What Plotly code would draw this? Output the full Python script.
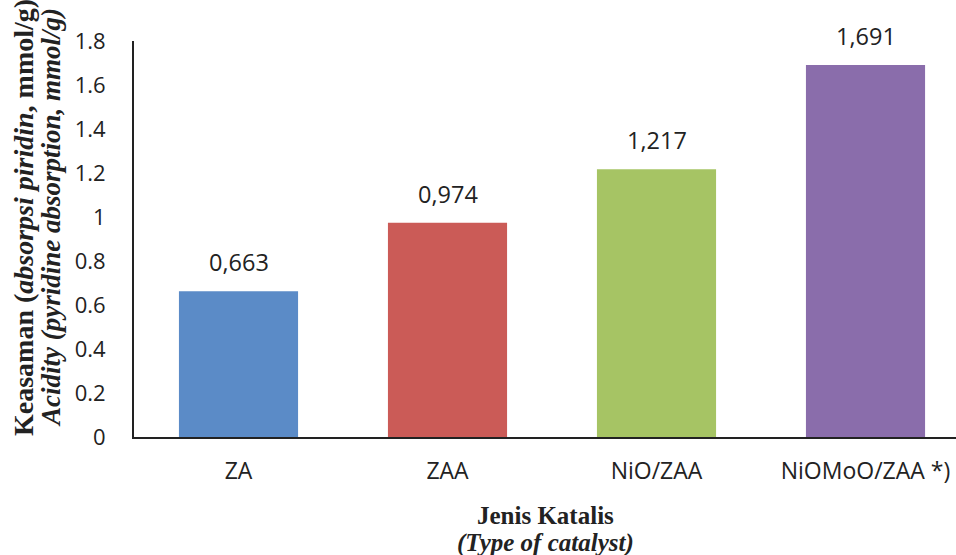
import plotly.graph_objects as go

categories = ["ZA", "ZAA", "NiO/ZAA", "NiOMoO/ZAA *)"]
values = [0.663, 0.974, 1.217, 1.691]
bar_colors = ["#5B8BC7", "#CB5B57", "#A6C464", "#8A6DAB"]
y_ticks = [0, 0.2, 0.4, 0.6, 0.8, 1, 1.2, 1.4, 1.6, 1.8]
y_tick_labels = ["0", "0.2", "0.4", "0.6", "0.8", "1", "1.2", "1.4", "1.6", "1.8"]
value_labels = [f"{v:.3f}".replace(".", ",") for v in values]

sans = "Open Sans"
serif = "Liberation Serif"

fig = go.Figure()
fig.add_trace(go.Bar(
    x=categories, y=values, marker=dict(color=bar_colors, line=dict(width=0)),
    width=0.57, hoverinfo="skip"))

for c, v, t in zip(categories, values, value_labels):
    fig.add_annotation(x=c, y=v, text=t, showarrow=False, yanchor="bottom",
                       yshift=11, font=dict(family=sans, size=23.5, color="#222222"))

fig.add_annotation(xref="paper", yref="paper", x=0, y=0.553, xshift=-111,
                   text="<b>Keasaman (<i>absorpsi piridin</i>, mmol/g)</b>",
                   textangle=-90, showarrow=False, xanchor="center", yanchor="middle",
                   font=dict(family=serif, size=28, color="#222222"))
fig.add_annotation(xref="paper", yref="paper", x=0, y=0.553, xshift=-83,
                   text="<b><i>Acidity (pyridine absorption, mmol/g)</i></b>",
                   textangle=-90, showarrow=False, xanchor="center", yanchor="middle",
                   font=dict(family=serif, size=27, color="#222222"))
fig.add_annotation(xref="paper", yref="paper", x=0.5, y=0, yshift=-78,
                   text="<b>Jenis Katalis</b>", showarrow=False,
                   xanchor="center", yanchor="middle",
                   font=dict(family=serif, size=25, color="#222222"))
fig.add_annotation(xref="paper", yref="paper", x=0.5, y=0, yshift=-106,
                   text="<b><i>(Type of catalyst)</i></b>", showarrow=False,
                   xanchor="center", yanchor="middle",
                   font=dict(family=serif, size=25, color="#222222"))

fig.update_layout(
    width=956, height=555,
    margin=dict(l=134, r=0, t=41, b=118),
    paper_bgcolor="white", plot_bgcolor="white",
    showlegend=False,
    xaxis=dict(range=[-0.5, 3.433], showline=True, linecolor="#222222", linewidth=2,
               ticks="", showgrid=False, zeroline=False,
               tickfont=dict(family=sans, size=23, color="#222222"), ticklabelstandoff=12),
    yaxis=dict(range=[0, 1.8], tickvals=y_ticks, ticktext=y_tick_labels,
               showline=True, linecolor="#222222", linewidth=2, ticks="",
               showgrid=False, zeroline=False,
               tickfont=dict(family=sans, size=22, color="#222222"), ticklabelstandoff=22),
)

fig.write_html("out.html", config={"displayModeBar": False},
               post_script="document.body.style.margin='0';document.body.style.overflow='hidden';")
